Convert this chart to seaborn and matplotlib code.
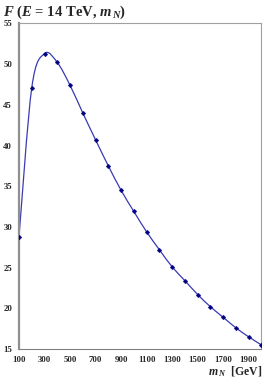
import numpy as np
import pandas as pd
import matplotlib
matplotlib.use("Agg")
import matplotlib.pyplot as plt
from matplotlib.path import Path
from matplotlib.patches import PathPatch
import seaborn as sns

# Datos
masa_n = [100, 200, 300, 400, 500, 600, 700, 800, 900, 1000,
          1100, 1200, 1300, 1400, 1500, 1600, 1700, 1800, 1900, 2000]
valores_f = [28.8, 47.1, 51.3, 50.2, 47.4, 44.0, 40.7, 37.5, 34.5, 31.9,
             29.4, 27.2, 25.1, 23.4, 21.7, 20.2, 18.9, 17.6, 16.5, 15.5]
ticks_x = [100, 300, 500, 700, 900, 1100, 1300, 1500, 1700, 1900]
ticks_y = [15, 20, 25, 30, 35, 40, 45, 50, 55]


def curva_suave(xs, ys):
    # Curva de Bezier tipo Catmull-Rom (como el suavizado de Excel)
    pts = np.column_stack([xs, ys]).astype(float)
    verts = [pts[0]]
    codes = [Path.MOVETO]
    n = len(pts)
    for i in range(n - 1):
        p0 = pts[max(i - 1, 0)]
        p1 = pts[i]
        p2 = pts[i + 1]
        p3 = pts[min(i + 2, n - 1)]
        c1 = p1 + (p2 - p0) / 6.0
        c2 = p2 - (p3 - p1) / 6.0
        verts += [c1, c2, p2]
        codes += [Path.CURVE4] * 3
    return Path(verts, codes)


sns.set_style("white")
plt.rcParams["font.family"] = ["Liberation Serif", "DejaVu Serif"]
plt.rcParams["mathtext.fontset"] = "custom"
plt.rcParams["mathtext.rm"] = "Liberation Serif:bold"
plt.rcParams["mathtext.it"] = "Liberation Serif:bold:italic"
plt.rcParams["mathtext.bf"] = "Liberation Serif:bold"

df = pd.DataFrame({"m": masa_n, "F": valores_f})

fig = plt.figure(figsize=(2.65, 3.84), dpi=100)
ax = fig.add_axes([0.0717, 0.091, 0.915, 0.848])

ax.add_patch(PathPatch(curva_suave(masa_n, valores_f), facecolor="none",
                       edgecolor="#3a3ab4", lw=0.9))
sns.scatterplot(data=df, x="m", y="F", ax=ax, marker="D", s=6,
                color="#000080", edgecolor="#000080", zorder=3)

ax.set_xlim(100, 2000)
ax.set_ylim(15, 55)
ax.set_xticks(ticks_x)
ax.set_xticks(range(100, 2001, 100), minor=True)
ax.set_yticks(ticks_y)
ax.tick_params(axis="both", which="both", direction="out", length=2.5,
               width=0.6, color="#808080", labelsize=6.3, pad=2.5)
for lab in ax.get_xticklabels() + ax.get_yticklabels():
    lab.set_fontweight("bold")

ax.spines["left"].set_color("#909090")
ax.spines["left"].set_linewidth(1.6)
ax.spines["bottom"].set_color("#808080")
ax.spines["bottom"].set_linewidth(0.8)
for lado in ["top", "right"]:
    ax.spines[lado].set_color("#a0a0a0")
    ax.spines[lado].set_linewidth(0.8)

ax.set_xlabel("")
ax.set_ylabel("")
fig.text(0.012, 0.99, r"$F\ (E\ $= 14 TeV, $m_{\,N}$)", fontsize=10.5,
         fontweight="bold", ha="left", va="top")
fig.text(0.99, 0.022, r"$m_{\,N}$  [GeV]", fontsize=8.5,
         fontweight="bold", ha="right", va="baseline")

fig.savefig("out.png", dpi=100)
